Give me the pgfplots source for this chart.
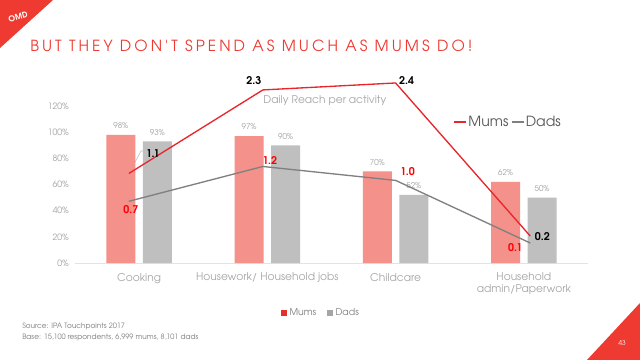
\documentclass[border=0pt]{standalone}
\usepackage{pgfplots}
\pgfplotsset{compat=1.18}
\usepackage{fontspec}
\setmainfont{TeX Gyre Adventor}
\newfontfamily\titlefont[LetterSpace=20]{TeX Gyre Adventor}
\definecolor{titlered}{HTML}{EE3A31}
\definecolor{linered}{HTML}{E8262B}
\definecolor{mumsbar}{HTML}{F4918B}
\definecolor{dadsbar}{HTML}{BFBFBF}
\definecolor{linegray}{HTML}{808080}
\definecolor{tickgray}{HTML}{A6A6A6}
\definecolor{axisgray}{HTML}{E3E3E3}
\definecolor{legtext}{HTML}{595959}
\definecolor{srcgray}{HTML}{7F7F7F}
\definecolor{leadergray}{HTML}{BFBFBF}
\definecolor{legred}{HTML}{E8302A}
\definecolor{leggray}{HTML}{A5A5A5}
\begin{document}
\begin{tikzpicture}
\begin{scope}[x=0.75pt,y=-0.75pt]
\path[use as bounding box, fill=white] (0,0) rectangle (640,360);
\fill[titlered] (0,0) -- (53,0) -- (0,48) -- cycle;
\fill[titlered] (587,360) -- (640,303) -- (640,360) -- cycle;
\node[text=white, font=\fontsize{5}{5}\selectfont] at (622,343) {43};
\node[text=white, font=\bfseries\fontsize{6}{6}\selectfont, rotate=15] at (18,17) {OMD};
\node[anchor=base west, text=titlered, inner sep=0pt, font=\titlefont\fontsize{11.5}{12}\selectfont] at (30,52) {BUT THEY DON'T SPEND AS MUCH AS MUMS DO!};
\node[anchor=base west, text=srcgray, inner sep=0pt, font=\fontsize{5.5}{6}\selectfont] at (22,328) {Source: IPA Touchpoints 2017};
\node[anchor=base west, text=srcgray, inner sep=0pt, font=\fontsize{5.5}{6}\selectfont] at (22,339) {Base: 15,100 respondents, 6,999 mums, 8,101 dads};
\draw[leadergray, line width=0.4pt] (133,166) -- (141,151) -- (144,151);
\end{scope}

% Bars: daily reach
\begin{axis}[
  at={(56.25pt,-197.25pt)}, anchor=south west,
  scale only axis, width=384.75pt, height=117.75pt,
  xmin=-0.5, xmax=3.5, ymin=0, ymax=120,
  ybar,
  xtick={0,1,2,3},
  xticklabels={Cooking, Housework/ Household jobs, Childcare, {Household\\admin/Paperwork}},
  xticklabel style={align=center, font=\fontsize{8}{8.5}\selectfont, text=tickgray, yshift=-4pt},
  ytick={0,20,40,60,80,100,120},
  yticklabel={\pgfmathprintnumber{\tick}\%},
  yticklabel style={font=\fontsize{6.5}{7}\selectfont, text=tickgray, xshift=-1pt},
  /pgf/number format/assume math mode=true,
  major tick length=0pt,
  axis x line*=bottom, axis y line*=left,
  y axis line style={draw=none},
  x axis line style={draw=axisgray, line width=0.75pt},
  clip=false,
  bar width=21.75pt,
  nodes near coords={\pgfmathprintnumber{\pgfplotspointmeta}\%},
  every node near coord/.append style={font=\fontsize{6}{7}\selectfont, text=tickgray, yshift=1pt},
  legend style={at={(0.48,-0.318)}, anchor=center, draw=none, fill=none,
    legend columns=2, font=\fontsize{7}{8}\selectfont, text=srcgray,
    /tikz/every even column/.append style={column sep=6pt}},
  legend image code/.code={\fill[#1, draw=none] (0pt,-2.2pt) rectangle (4.5pt,2.3pt);},
]
\addplot[bar shift=-13.7pt, fill=mumsbar, draw=none, forget plot] coordinates {(0,98) (1,97) (2,70) (3,62)};
\addplot[bar shift=13.7pt, fill=dadsbar, draw=none, forget plot] coordinates {(0,93) (1,90) (2,52) (3,50)};
\addlegendimage{fill=legred, draw=none}
\addlegendentry{Mums}
\addlegendimage{fill=leggray, draw=none}
\addlegendentry{Dads}
\end{axis}

% Lines: hours per day
\begin{axis}[
  at={(56.25pt,-197.25pt)}, anchor=south west,
  scale only axis, width=384.75pt, height=117.75pt,
  xmin=-0.5, xmax=3.5, ymin=-0.187, ymax=2.069,
  hide axis, clip=false,
  legend style={at={(0.844,0.898)}, anchor=center, draw=none, fill=none,
    legend columns=2, font=\fontsize{10.5}{11}\selectfont, text=legtext,
    inner sep=0pt, nodes={inner sep=1pt},
    /tikz/every even column/.append style={column sep=1pt}},
  legend image code/.code={\draw[#1, line width=1pt] (0pt,0pt) -- (9pt,0pt);},
]
\addplot[linered, line width=1pt] coordinates {(-0.08,1.1) (0.965,2.3) (2.0,2.4) (3.05,0.2)};
\addlegendentry{Mums}
\addplot[linegray, line width=1pt] coordinates {(-0.08,0.7) (0.965,1.2) (2.0,1.0) (3.05,0.1)};
\addlegendentry{Dads}
\node[font=\fontsize{8}{9}\selectfont, text=tickgray] at (rel axis cs:0.487,1.032) {Daily Reach per activity};
\begin{scope}[every node/.style={font=\bfseries\fontsize{8}{9}\selectfont}]
\node[text=black, xshift=18pt, yshift=15pt] at (axis cs:-0.08,1.1) {1.1};
\node[text=black, xshift=-6.75pt, yshift=6.75pt] at (axis cs:0.965,2.3) {2.3};
\node[text=black, xshift=8.25pt, yshift=1.5pt] at (axis cs:2.0,2.4) {2.4};
\node[text=black, xshift=9pt, yshift=0pt] at (axis cs:3.05,0.2) {0.2};
\node[text=red, xshift=1.5pt, yshift=-6pt] at (axis cs:-0.08,0.7) {0.7};
\node[text=red, xshift=5.25pt, yshift=4.5pt] at (axis cs:0.965,1.2) {1.2};
\node[text=red, xshift=9pt, yshift=6.75pt] at (axis cs:2.0,1.0) {1.0};
\node[text=red, xshift=-11.25pt, yshift=-3.75pt] at (axis cs:3.05,0.1) {0.1};
\end{scope}
\end{axis}
\end{tikzpicture}
\end{document}
